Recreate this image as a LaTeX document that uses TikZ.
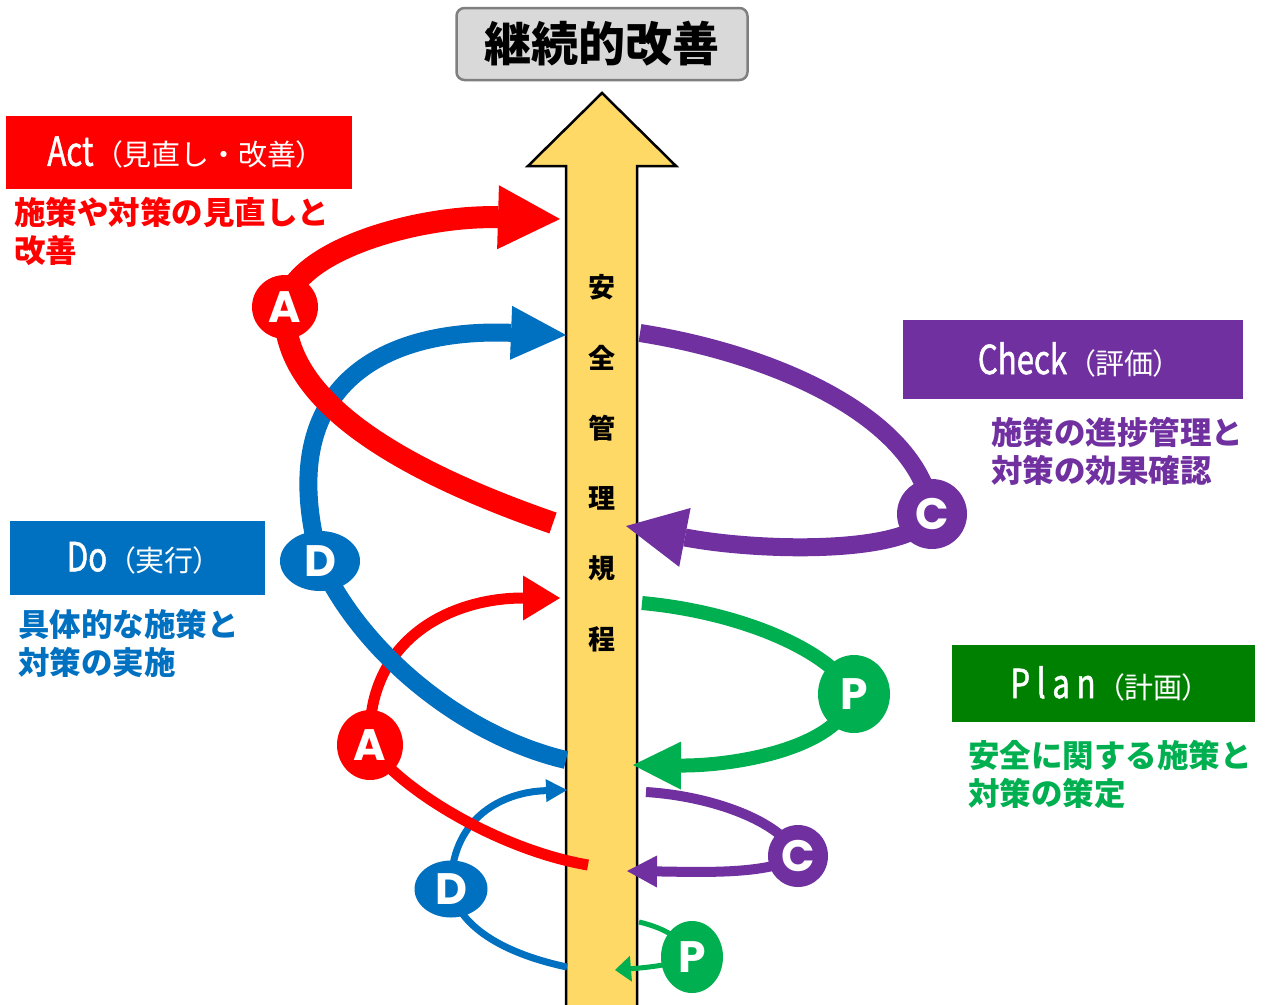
\documentclass[tikz,border=0pt]{standalone}
\usepackage{fontspec}
\setmainfont{Noto Sans CJK JP}
\newfontfamily\narrowlatin[FakeStretch=0.78,FakeBold=1.2]{Noto Sans CJK JP}
\newfontfamily\paltcjk[RawFeature=+palt]{Noto Sans CJK JP}
\newfontfamily\letterfont{Poppins}
\usetikzlibrary{arrows.meta,shapes.geometric,backgrounds}
\definecolor{actred}{RGB}{255,0,0}
\definecolor{doblue}{RGB}{0,112,192}
\definecolor{checkpurple}{RGB}{112,48,160}
\definecolor{plangreen}{RGB}{0,128,0}
\definecolor{loopgreen}{RGB}{0,176,80}
\definecolor{shaftyellow}{RGB}{255,217,102}
\definecolor{titlegray}{RGB}{217,217,217}
\definecolor{titleedge}{RGB}{127,127,127}
\newcommand{\phaseword}[2]{{\narrowlatin\fontsize{40}{40}\selectfont #1}\hspace{14pt}{\paltcjk （}#2{\paltcjk ）}}

\begin{document}
\begin{tikzpicture}[
    x=1pt, y=-1pt,
    stage/.style={ellipse, inner sep=0pt, text=white, font=\letterfont\bfseries\fontsize{44}{44}\selectfont},
    phasebox/.style={rectangle, inner sep=0pt, text=white, font=\fontsize{29}{29}\selectfont},
    phasenote/.style={anchor=west, align=left, inner sep=0pt, font=\bfseries\fontsize{31.5}{38}\selectfont},
    cycleline/.style={line cap=butt}
]
\useasboundingbox (0,0) rectangle (1268,1004);

\node[draw=titleedge, line width=2.5pt, fill=titlegray, rounded corners=8pt, minimum width=291pt, minimum height=72pt, inner sep=0pt, font=\bfseries\fontsize{47}{47}\selectfont] (goal) at (602,44) {継続的改善};

\foreach \ch [count=\i from 0] in {安,全,管,理,規,程}
    \node[font=\bfseries\fontsize{27}{27}\selectfont] (rule-\i) at (602,{287+70.4*\i}) {\ch};

% PDCA marks
\node[stage, fill=loopgreen, minimum width=62pt, minimum height=72pt] (P1) at (692,957) {P};
\node[stage, fill=doblue, minimum width=73pt, minimum height=57pt] (D1) at (451,889) {D};
\node[stage, fill=checkpurple, minimum width=60pt, minimum height=62pt] (C1) at (798,856) {C};
\node[stage, fill=actred, minimum width=66pt, minimum height=70pt] (A1) at (370,745) {A};
\node[stage, fill=loopgreen, minimum width=72pt, minimum height=78pt] (P2) at (854,694) {P};
\node[stage, fill=doblue, minimum width=80pt, minimum height=60pt] (D2) at (320,561) {D};
\node[stage, fill=checkpurple, minimum width=70pt, minimum height=70pt] (C2) at (932,514) {C};
\node[stage, fill=actred, minimum width=66pt, minimum height=64pt] (A2) at (285,307) {A};

\coordinate (p1-in) at (639,922);  \coordinate (p1-tip) at (615,970);
\coordinate (d1-in) at (567,967);  \coordinate (d1-tip) at (567,790);
\coordinate (c1-in) at (646,792);  \coordinate (c1-tip) at (627,871);
\coordinate (a1-in) at (588,865);  \coordinate (a1-tip) at (560,598);
\coordinate (p2-in) at (642,603);  \coordinate (p2-tip) at (633,765);
\coordinate (d2-in) at (566,760);  \coordinate (d2-tip) at (566,335);
\coordinate (c2-in) at (640,333);  \coordinate (c2-tip) at (626,526);
\coordinate (a2-in) at (553,523);  \coordinate (a2-tip) at (560,219);

% Connections
\begin{scope}[on background layer]
\fill[white] (0,0) rectangle (1268,1004);
\filldraw[fill=shaftyellow, draw=black, line width=2.5pt, line join=miter]
    (566,1012) -- (566,166) -- (528,166) -- (602,93) -- (676,166) -- (637,166) -- (637,1012) -- cycle;

\draw[cycleline, line width=5pt, loopgreen, -{Triangle[length=16pt,width=26pt,line width=0pt]}]
    (p1-in) .. controls (665,928) and (685,940) .. (P1.center) .. controls (670,966) and (640,968) .. (p1-tip);
\draw[cycleline, line width=10pt, checkpurple, -{Triangle[length=30pt,width=32pt,line width=0pt]}]
    (c1-in) .. controls (710,796) and (780,820) .. (C1.center) .. controls (770,875) and (700,872) .. (c1-tip);
\draw[cycleline, line width=7pt, doblue, -{Triangle[length=21pt,width=23pt,line width=0pt]}]
    (d1-in) .. controls (510,955) and (460,930) .. (D1.center) .. controls (450,820) and (500,792) .. (d1-tip);
\draw[cycleline, line width=11pt, actred, -{Triangle[length=37pt,width=45pt,line width=0pt]}]
    (a1-in) .. controls (500,850) and (400,790) .. (A1.center) .. controls (365,640) and (450,598) .. (a1-tip);
\draw[cycleline, line width=14pt, loopgreen, -{Triangle[length=48pt,width=48pt,line width=0pt]}]
    (p2-in) .. controls (740,612) and (830,650) .. (P2.center) .. controls (840,750) and (730,766) .. (p2-tip);
\draw[cycleline, line width=18pt, checkpurple, -{Triangle[length=60pt,width=60pt,line width=0pt]}]
    (c2-in) .. controls (780,355) and (920,420) .. (C2.center) .. controls (915,555) and (760,552) .. (c2-tip);
\draw[cycleline, line width=18pt, doblue, -{Triangle[length=55pt,width=54pt,line width=0pt]}]
    (d2-in) .. controls (460,735) and (360,650) .. (D2.center) .. controls (270,380) and (390,328) .. (d2-tip);
\draw[cycleline, line width=22pt, actred, -{Triangle[length=62pt,width=64pt,line width=0pt]}]
    (a2-in) .. controls (400,470) and (280,400) .. (A2.center) .. controls (292,250) and (420,215) .. (a2-tip);
\end{scope}

% Labels
\node[phasebox, fill=actred, minimum width=346pt, minimum height=73pt] (act) at (179,152.5)
    {\phaseword{Act}{見直し・改善}};
\node[phasebox, fill=checkpurple, minimum width=340pt, minimum height=79pt] (check) at (1073,359.5)
    {\phaseword{Check}{評価}};
\node[phasebox, fill=doblue, minimum width=255pt, minimum height=74pt] (do) at (137.5,558)
    {\phaseword{Do}{実行}};
\node[phasebox, fill=plangreen, minimum width=303pt, minimum height=77pt] (plan) at (1103.5,683.5)
    {\phaseword{P\,l\,a\,n}{計画}};

\node[phasenote, text=actred] (act-note) at (14,231) {施策や対策の見直しと\\改善};
\node[phasenote, text=checkpurple] (check-note) at (991,451) {施策の進捗管理と\\対策の効果確認};
\node[phasenote, text=doblue] (do-note) at (18,643) {具体的な施策と\\対策の実施};
\node[phasenote, text=loopgreen] (plan-note) at (968,774) {安全に関する施策と\\対策の策定};

\end{tikzpicture}
\end{document}
